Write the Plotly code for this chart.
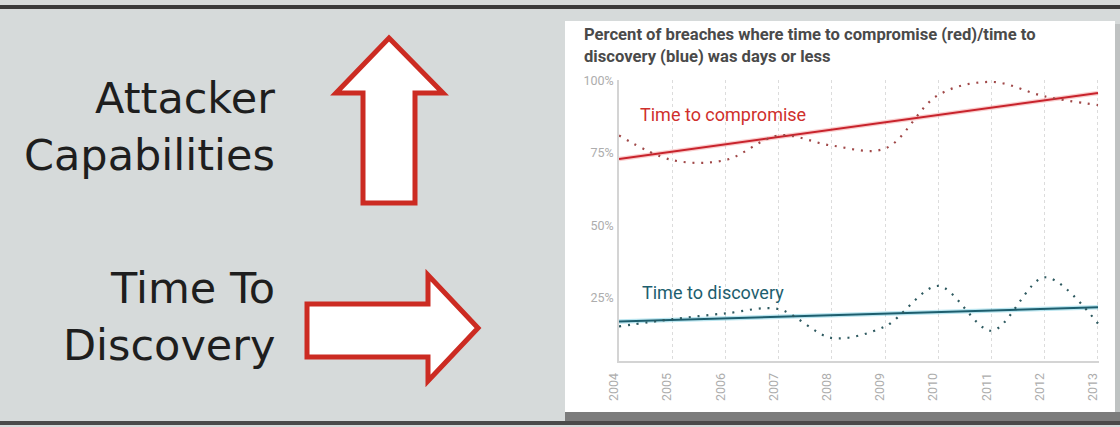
import plotly.graph_objects as go

# ---------------- data ----------------
years = [2004, 2005, 2006, 2007, 2008, 2009, 2010, 2011, 2012, 2013]
compromise = [81, 72.5, 72.5, 81, 77.5, 76.5, 95, 99.5, 94.5, 91.5]
discovery = [15, 17.5, 19.5, 21, 11, 15, 29, 13.5, 32, 16]
trend_years = [2004, 2013]
compromise_trend = [72.9, 95.7]
discovery_trend = [16.7, 21.6]
y_ticks = [25, 50, 75, 100]
y_tick_labels = ["25%", "50%", "75%", "100%"]
x_tick_labels = [str(y) for y in years]

W, H = 1120, 427
L, R, T, B = 619, 1099, 80, 361


def px(x):
    return (x - L) / (R - L)


def py(y):
    return (B - y) / (B - T)


def path(points):
    return "M " + " L ".join(f"{px(x):.5f},{py(y):.5f}" for x, y in points) + " Z"


fig = go.Figure()

RED = "#cf2f2c"
TEAL = "#1d5e6e"

# trend glows + lines
fig.add_trace(go.Scatter(x=trend_years, y=compromise_trend, mode="lines",
                         line=dict(color="rgba(240,130,130,0.4)", width=4.5),
                         hoverinfo="skip", showlegend=False))
fig.add_trace(go.Scatter(x=trend_years, y=compromise_trend, mode="lines",
                         line=dict(color="#c8232c", width=2),
                         showlegend=False))
fig.add_trace(go.Scatter(x=trend_years, y=discovery_trend, mode="lines",
                         line=dict(color="rgba(120,205,225,0.5)", width=4.5),
                         hoverinfo="skip", showlegend=False))
fig.add_trace(go.Scatter(x=trend_years, y=discovery_trend, mode="lines",
                         line=dict(color=TEAL, width=2),
                         showlegend=False))

# dotted series
fig.add_trace(go.Scatter(x=years, y=compromise, mode="lines",
                         line=dict(color="#a04848", width=2.2, dash="2px,6.8px",
                                   shape="spline", smoothing=1.0),
                         name="Time to compromise", showlegend=False))
fig.add_trace(go.Scatter(x=years, y=discovery, mode="lines",
                         line=dict(color="#2e5a60", width=2.2, dash="2px,6.8px",
                                   shape="spline", smoothing=0.9),
                         name="Time to discovery", showlegend=False))

shapes = []
# slide top rule
shapes.append(dict(type="rect", xref="paper", yref="paper",
                   x0=px(0), x1=px(W), y0=py(5), y1=py(9),
                   fillcolor="#3a3a3a", line=dict(width=0), layer="below"))
# box shadow and bottom rule
shapes.append(dict(type="rect", xref="paper", yref="paper",
                   x0=px(565), x1=px(W), y0=py(412), y1=py(422),
                   fillcolor="#7c7c7c", line=dict(width=0), layer="below"))
shapes.append(dict(type="rect", xref="paper", yref="paper",
                   x0=px(0), x1=px(W), y0=py(421), y1=py(425),
                   fillcolor="#4a4a4a", line=dict(width=0), layer="below"))
shapes.append(dict(type="rect", xref="paper", yref="paper",
                   x0=px(1115), x1=px(W), y0=py(24), y1=py(412),
                   fillcolor="#bfc2c2", line=dict(width=0), layer="below"))
# white chart card
shapes.append(dict(type="rect", xref="paper", yref="paper",
                   x0=px(565), x1=px(1115), y0=py(21), y1=py(412),
                   fillcolor="#ffffff", line=dict(width=0), layer="below"))
# up arrow
up = [(389, 38), (443, 93), (415, 93), (415, 203), (363, 203), (363, 93), (336, 93)]
shapes.append(dict(type="path", xref="paper", yref="paper", path=path(up),
                   fillcolor="#ffffff", line=dict(color="#cc2b22", width=5),
                   layer="below"))
# right arrow
right = [(478, 328), (428, 381), (428, 357), (307, 357), (307, 304), (428, 304), (428, 275)]
shapes.append(dict(type="path", xref="paper", yref="paper", path=path(right),
                   fillcolor="#ffffff", line=dict(color="#cc2b22", width=5),
                   layer="below"))

annotations = []
big = dict(family="DejaVu Sans", size=43, color="#1e1e1e")
for text, yc in [("Attacker", 98), ("Capabilities", 155), ("Time To", 288), ("Discovery", 345)]:
    annotations.append(dict(text=text, xref="paper", yref="paper", x=px(277), y=py(yc),
                            xanchor="right", yanchor="middle", showarrow=False, font=big))

annotations.append(dict(
    text="Percent of breaches where time to compromise (red)/time to<br>discovery (blue) was days or less",
    xref="paper", yref="paper", x=px(582), y=py(23), xanchor="left", yanchor="top",
    align="left", showarrow=False,
    font=dict(family="Roboto", size=16.6, color="#4a4a4a", weight="bold")))

annotations.append(dict(text="Time to compromise", x=2004.36, y=88.2, xanchor="left",
                        yanchor="middle", showarrow=False,
                        font=dict(family="Roboto", size=18, color=RED)))
annotations.append(dict(text="Time to discovery", x=2004.39, y=26.8, xanchor="left",
                        yanchor="middle", showarrow=False,
                        font=dict(family="Roboto", size=18, color=TEAL)))

fig.update_layout(
    width=W, height=H,
    margin=dict(l=L, r=W - R, t=T, b=H - B, pad=0),
    paper_bgcolor="#d6dada",
    plot_bgcolor="rgba(0,0,0,0)",
    shapes=shapes,
    annotations=annotations,
    showlegend=False,
)
fig.update_xaxes(range=[2004, 2013.019], tickvals=years, ticktext=x_tick_labels,
                 tickangle=-90, showgrid=True, gridcolor="#dcdcdc", griddash="3px,3px",
                 gridwidth=1, showline=True, linecolor="#d4d4d4", linewidth=2,
                 zeroline=False, ticks="", automargin=False,
                 tickfont=dict(family="Roboto", size=12.5, color="#adadad"),
                 ticklabelstandoff=5, ticklabelshift=-5)
fig.update_yaxes(range=[3.05, 100.17], tickvals=y_ticks, ticktext=y_tick_labels,
                 showgrid=False, showline=True, linecolor="#d4d4d4", linewidth=1.5,
                 zeroline=False, ticks="", automargin=False,
                 tickfont=dict(family="Roboto", size=12.5, color="#adadad"),
                 ticklabelstandoff=1)

fig.write_html("out.html")
